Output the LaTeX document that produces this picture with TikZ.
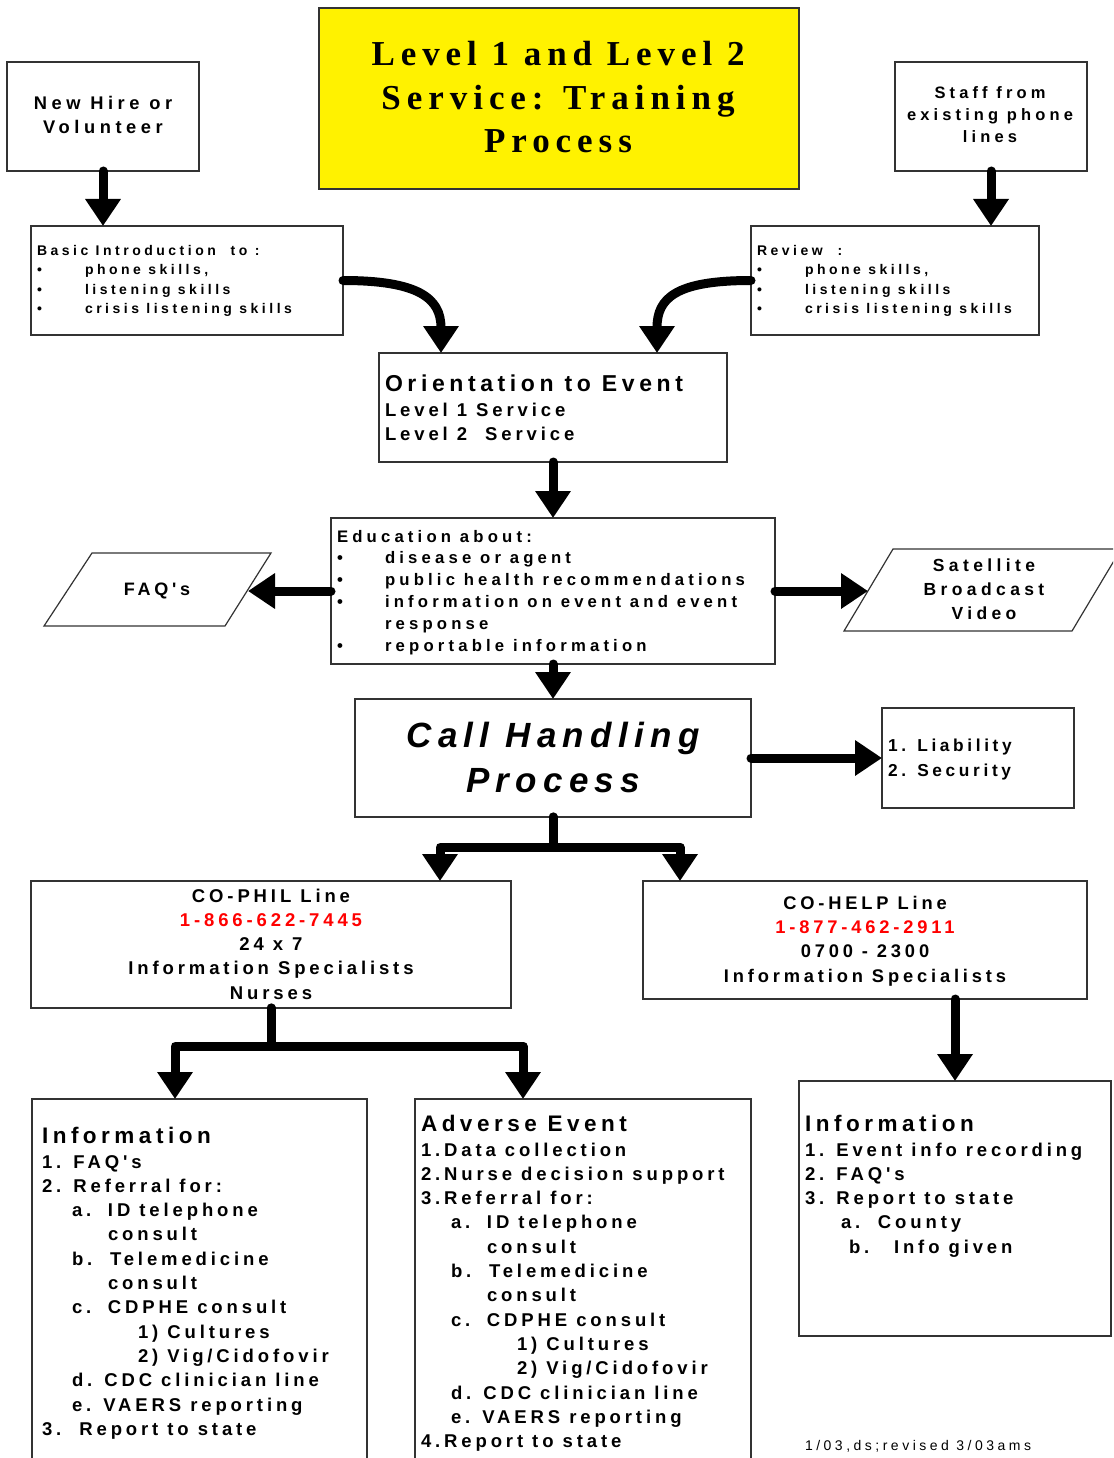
\documentclass[tikz,border=0pt]{standalone}
\usepackage{fontspec}
\usetikzlibrary{arrows.meta}
% letter-spaced faces used throughout the chart
\newfontfamily\sansA{Liberation Sans}[LetterSpace=25]
\newfontfamily\sansD{Liberation Sans}[LetterSpace=21]
\newfontfamily\sansB{Liberation Sans}[LetterSpace=20]
\newfontfamily\sansC{Liberation Sans}[LetterSpace=18]
\newfontfamily\serifT{Liberation Serif}[LetterSpace=17]
\newcommand\fsz[2]{\fontsize{#1}{#2}\selectfont}
\newcommand\bodyf{\sansA\bfseries}
\newcommand\bodyg{\sansD\bfseries}
\newcommand\bul{\makebox[48pt][l]{\textbullet}}
\definecolor{phonered}{RGB}{255,0,0}
\begin{document}
% multi-line texts are anchored at the baseline of their last line
\begin{tikzpicture}[x=1pt,y=-1pt,
  box/.style={draw=black!80, line width=1.2pt, fill=white, inner sep=0pt,
    outer sep=0pt, anchor=north west},
  txt/.style={inner sep=0pt, outer sep=0pt, align=left, text=black},
  ctxt/.style={inner sep=0pt, outer sep=0pt, align=center, text=black},
  body/.style={font=\bodyg\fsz{18.5}{24.3}},
  head/.style={font=\sansB\bfseries\fsz{22.5}{26}},
  arr/.style={line width=9pt, line cap=round, line join=round,
    -{Triangle[width=34pt,length=27pt]}},
  para/.style={draw=black!80, line width=1.2pt, fill=white}]

\clip (0,0) rectangle (1113,1458);
\fill[white] (0,0) rectangle (1113,1458);

% ---- boxes ----
\node[box, fill=yellow, minimum width=480pt, minimum height=181pt] (title) at (319,8) {};
\node[box, minimum width=192pt, minimum height=109pt] (newhire) at (7,62) {};
\node[box, minimum width=192pt, minimum height=109pt] (staff) at (895,62) {};
\node[box, minimum width=312pt, minimum height=109pt] (basic) at (31,226) {};
\node[box, minimum width=288pt, minimum height=109pt] (review) at (751,226) {};
\node[box, minimum width=348pt, minimum height=109pt] (orient) at (379,353) {};
\node[box, minimum width=444pt, minimum height=146pt] (edu) at (331,518) {};
\node[box, minimum width=396pt, minimum height=118pt] (call) at (355,699) {};
\node[box, minimum width=192pt, minimum height=100pt] (liab) at (882,708) {};
\node[box, minimum width=480pt, minimum height=127pt] (cophil) at (31,881) {};
\node[box, minimum width=444pt, minimum height=118pt] (cohelp) at (643,881) {};
\node[box, minimum width=335pt, minimum height=380pt] (infoL) at (32,1099) {};
\node[box, minimum width=336pt, minimum height=380pt] (adverse) at (415,1099) {};
\node[box, minimum width=312pt, minimum height=255pt] (infoR) at (799,1081) {};

% parallelograms
\draw[para] (92,553) -- (271,553) -- (225,626) -- (44,626) -- cycle;
\draw[para] (893,549) -- (1121,549) -- (1072,631) -- (844,631) -- cycle;
\coordinate (faqedge) at (248,591);
\coordinate (satedge) at (868,591);

% ---- texts ----
\node[ctxt, anchor=base, font=\serifT\bfseries\fsz{35}{43.5}] (titleT) at (558,153)
  {Level 1 and Level 2\\Service: Training\\Process};

\node[ctxt, anchor=base, font=\bodyf\fsz{18.3}{24}] (newhireT) at (103,134)
  {New Hire or\\Volunteer};
\node[ctxt, anchor=base, font=\bodyf\fsz{16.5}{22}] (staffT) at (990,143)
  {Staff from\\existing phone\\lines};

\node[txt, anchor=base west, font=\bodyf\fsz{14}{19.6}] (basicT) at (37,313.8)
  {Basic Introduction\ \ to :\\
   \bul phone skills,\\
   \bul listening skills\\
   \bul crisis listening skills};
\node[txt, anchor=base west, font=\bodyf\fsz{14}{19.6}] (reviewT) at (757,313.8)
  {Review\ \ :\\
   \bul phone skills,\\
   \bul listening skills\\
   \bul crisis listening skills};

\node[txt, anchor=base west, font=\sansB\bfseries\fsz{23}{26}] (orientH) at (385,391)
  {Orientation to Event};
\node[txt, anchor=base west, font=\bodyg\fsz{18.5}{24.5}] (orientT) at (385,440.5)
  {Level 1 Service\\Level 2\ \ Service};

\node[txt, anchor=base west, font=\bodyf\fsz{16.7}{21.8}] (eduT) at (337,651)
  {Education about:\\
   \bul disease or agent\\
   \bul public health recommendations\\
   \bul information on event and event\\
   \hspace*{48pt}response\\
   \bul reportable information};

\node[ctxt, anchor=base, font=\bodyg\fsz{18}{24}] (faqT) at (157,595) {FAQ's};
\node[ctxt, anchor=base, font=\bodyf\fsz{17.5}{24}] (satT) at (984,619)
  {Satellite\\Broadcast\\Video};

\node[ctxt, anchor=base, font=\sansC\bfseries\itshape\fsz{35}{45}] (callT) at (553,792)
  {Call Handling\\Process};

\node[txt, anchor=base west, font=\bodyg\fsz{17.3}{25}] (liabT) at (888,776)
  {1. Liability\\2. Security};

\node[ctxt, anchor=base, body] (cophilT) at (271,999.2)
  {CO-PHIL Line\\\textcolor{phonered}{1-866-622-7445}\\24 x 7\\Information Specialists\\Nurses};
\node[ctxt, anchor=base, font=\bodyg\fsz{18.3}{24.4}] (cohelpT) at (865,982.2)
  {CO-HELP Line\\\textcolor{phonered}{1-877-462-2911}\\0700 - 2300\\Information Specialists};

\node[txt, anchor=base west, head] (infoLH) at (42,1143) {Information};
\node[txt, anchor=base west, body] (infoLT) at (42,1435.3)
  {1. FAQ's\\
   2. Referral for:\\
   \hspace*{30pt}\makebox[36pt][l]{a.}ID telephone\\
   \hspace*{66pt}consult\\
   \hspace*{30pt}\makebox[38pt][l]{b.}Telemedicine\\
   \hspace*{66pt}consult\\
   \hspace*{30pt}\makebox[36pt][l]{c.}CDPHE consult\\
   \hspace*{96pt}1) Cultures\\
   \hspace*{96pt}2) Vig/Cidofovir\\
   \hspace*{30pt}d. CDC clinician line\\
   \hspace*{30pt}e. VAERS reporting\\
   3.\ \ Report to state};

\node[txt, anchor=base west, head] (advH) at (421,1131) {Adverse Event};
\node[txt, anchor=base west, body] (advT) at (421,1447.6)
  {1.Data collection\\
   2.Nurse decision support\\
   3.Referral for:\\
   \hspace*{30pt}\makebox[36pt][l]{a.}ID telephone\\
   \hspace*{66pt}consult\\
   \hspace*{30pt}\makebox[38pt][l]{b.}Telemedicine\\
   \hspace*{66pt}consult\\
   \hspace*{30pt}\makebox[36pt][l]{c.}CDPHE consult\\
   \hspace*{96pt}1) Cultures\\
   \hspace*{96pt}2) Vig/Cidofovir\\
   \hspace*{30pt}d. CDC clinician line\\
   \hspace*{30pt}e. VAERS reporting\\
   4.Report to state};

\node[txt, anchor=base west, head] (infoRH) at (805,1131) {Information};
\node[txt, anchor=base west, body] (infoRT) at (805,1253.2)
  {1. Event info recording\\
   2. FAQ's\\
   3. Report to state\\
   \hspace*{36pt}\makebox[37pt][l]{a.}County\\
   \hspace*{44pt}\makebox[45pt][l]{b.}Info given};

\node[txt, anchor=base west, font=\sansA\fsz{14}{18}] (footT) at (805,1450)
  {1/03,ds;revised 3/03ams};

% ---- connectors ----
\draw[arr] (newhire.south) -- (newhire.south |- basic.north);
\draw[arr] (staff.south) -- (staff.south |- review.north);
\draw[arr] (basic.east) .. controls +(75,0) and +(0,-55) .. ([xshift=62pt]orient.north west);
\draw[arr] (review.west) .. controls +(-75,0) and +(0,-55) .. ([xshift=-70pt]orient.north east);
\draw[arr] (orient.south) -- (edu.north);
\draw[arr] (edu.west) -- (faqedge);
\draw[arr] (edu.east) -- (satedge);
\draw[arr] (edu.south) -- (call.north);
\draw[arr] (call.east) -- (liab.west);
\draw[arr] (call.south) -- ++(0,30) -| ([xshift=169pt]cophil.north);
\draw[arr] (call.south) -- ++(0,30) -| ([xshift=37pt]cohelp.north west);
\draw[arr] (cophil.south) -- ++(0,38) -| ([xshift=143pt]infoL.north west);
\draw[arr] (cophil.south) -- ++(0,38) -| ([xshift=108pt]adverse.north west);
\draw[arr] (cohelp.south -| infoR.north) -- (infoR.north);
\end{tikzpicture}
\end{document}
